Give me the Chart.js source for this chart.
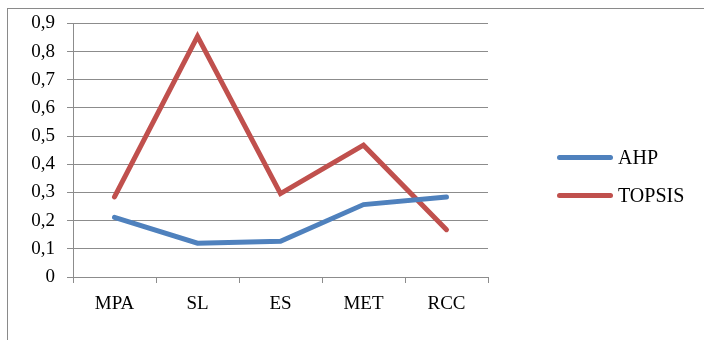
<!DOCTYPE html>
<html>
<head>
  <title>AHP vs TOPSIS</title>
  <script src="https://cdn.jsdelivr.net/npm/chart.js"></script>
  <style>
    body {
      margin: 0;
      background-color: #ffffff;
      font-family: "Liberation Serif", "Times New Roman", serif;
    }

    #wrap {
      position: relative;
      width: 704px;
      height: 340px;
      overflow: hidden;
    }

    #frame {
      position: absolute;
      left: 7px;
      top: 8px;
      width: 720px;
      height: 360px;
      border-left: 1px solid #8a8a8a;
      border-top: 1px solid #8a8a8a;
    }

    canvas {
      position: absolute;
      left: 0;
      top: 0;
    }

    #legend {
      position: absolute;
      left: 557px;
      top: 138px;
    }

    .item {
      display: flex;
      align-items: center;
      height: 38px;
      font-size: 20px;
      color: #000;
    }

    .swatch {
      width: 56px;
      height: 5px;
      border-radius: 3px;
      margin-right: 5px;
    }
  </style>
</head>
<body>
  <div id="wrap">
    <div id="frame"></div>
    <canvas id="lineChart" width="704" height="340"></canvas>
    <div id="legend"></div>
  </div>

  <script>
    const categories = ['MPA', 'SL', 'ES', 'MET', 'RCC'];
    const ahp = [0.212, 0.12, 0.127, 0.257, 0.284];
    const topsis = [0.284, 0.854, 0.296, 0.468, 0.168];
    const seriesNames = ['AHP', 'TOPSIS'];
    const seriesColors = ['#4F81BD', '#C0504D'];

    const gridColor = '#8c8c8c';
    const font = { family: '"Liberation Serif", "Times New Roman", serif', size: 19 };

    const ctx = document.getElementById('lineChart').getContext('2d');
    const chart = new Chart(ctx, {
      type: 'line',
      data: {
        labels: categories,
        datasets: [ahp, topsis].map((values, i) => ({
          label: seriesNames[i],
          data: values,
          borderColor: seriesColors[i],
          backgroundColor: seriesColors[i],
          borderWidth: 5,
          borderCapStyle: 'round',
          borderJoinStyle: 'miter',
          pointRadius: 0,
          fill: false,
          tension: 0
        }))
      },
      options: {
        responsive: false,
        animation: false,
        layout: { padding: { left: 0, right: 216, top: 22, bottom: 0 } },
        plugins: {
          legend: { display: false },
          tooltip: { enabled: false }
        },
        scales: {
          x: {
            offset: true,
            afterFit: (scale) => { scale.height = 63; },
            grid: {
              offset: true,
              drawOnChartArea: false,
              color: gridColor,
              tickLength: 6
            },
            border: { color: gridColor, width: 1 },
            ticks: { color: '#000', font: font, padding: 10, maxRotation: 0 }
          },
          y: {
            min: 0,
            max: 0.9,
            afterFit: (scale) => { scale.width = 73; },
            grid: { color: gridColor, tickLength: 6 },
            border: { color: gridColor, width: 1 },
            ticks: {
              stepSize: 0.1,
              color: '#000',
              font: font,
              padding: 12,
              callback: (v) => (Math.round(v * 10) / 10).toString().replace('.', ',')
            }
          }
        }
      }
    });

    const legend = document.getElementById('legend');
    seriesNames.forEach((name, i) => {
      const item = document.createElement('div');
      item.className = 'item';
      item.innerHTML = `<span class="swatch" style="background:${seriesColors[i]}"></span>${name}`;
      legend.appendChild(item);
    });
  </script>
</body>
</html>
